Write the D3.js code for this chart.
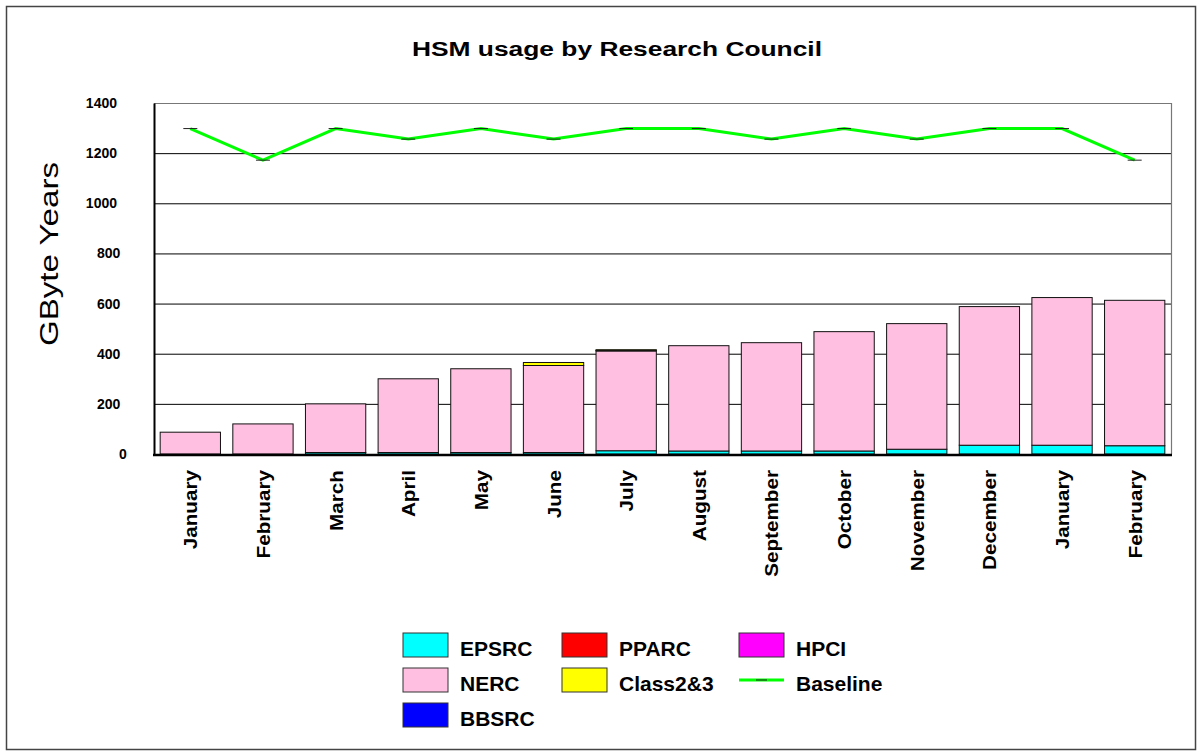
<!DOCTYPE html>
<html>
<head>
<meta charset="utf-8">
<script src="https://cdn.jsdelivr.net/npm/d3@7"></script>
<style>
  body { margin: 0; background: #fff; }
  svg { font-family: "Liberation Sans", Arial, sans-serif; }
</style>
</head>
<body>
<script>
// month labels (two Januaries / Februaries, so keep an index key)
var months = ["January", "February", "March", "April", "May", "June", "July",
  "August", "September", "October", "November", "December", "January", "February"];
var epsrc = [0, 0, 6, 6, 6, 6, 13, 12, 12, 12, 19, 35, 35, 33];
var nerc = [87, 120, 194, 294, 334, 347, 398, 420, 432, 476, 501, 553, 589, 580];
var bbsrc = [0, 0, 0, 0, 0, 0, 0, 0, 0, 0, 0, 0, 0, 0];
var pparc = [0, 0, 0, 0, 0, 0, 2, 0, 0, 0, 0, 0, 0, 0];
var hpci = [0, 0, 0, 0, 0, 0, 0, 0, 0, 0, 0, 0, 0, 0];
var class23 = [0, 0, 0, 0, 0, 12, 3, 0, 0, 0, 0, 0, 0, 0];
var baseline = [1298, 1172, 1298, 1256, 1298, 1256, 1298, 1298, 1256, 1298, 1256, 1298, 1298, 1172];
var yTicks = [0, 200, 400, 600, 800, 1000, 1200, 1400];

var W = 1202, H = 756;
var plot = {left: 154, top: 103, right: 1171, bottom: 454};

var svg = d3.select("body").append("svg")
  .attr("width", W)
  .attr("height", H);

// outer frame
svg.append("rect")
  .attr("x", 6.5).attr("y", 6.5)
  .attr("width", W - 13).attr("height", H - 13)
  .attr("fill", "none")
  .attr("stroke", "#444")
  .attr("stroke-width", 1.5);

svg.append("text")
  .attr("x", 412).attr("y", 56)
  .attr("font-size", 20).attr("font-weight", "bold")
  .attr("textLength", 410).attr("lengthAdjust", "spacingAndGlyphs")
  .text("HSM usage by Research Council");

var x = d3.scaleBand()
  .domain(d3.range(months.length))
  .range([plot.left, plot.right])
  .paddingInner(0.17)
  .paddingOuter(0.085);

var y = d3.scaleLinear()
  .domain([0, 1400])
  .range([plot.bottom, plot.top]);

// gridlines
svg.append("g").selectAll("line")
  .data(yTicks.filter(function (d) { return d > 0 && d < 1400; }))
  .enter().append("line")
  .attr("x1", plot.left).attr("x2", plot.right)
  .attr("y1", function (d) { return y(d) + 0.5; })
  .attr("y2", function (d) { return y(d) + 0.5; })
  .attr("stroke", "#000").attr("stroke-width", 1);

// top and right frame (grey)
svg.append("path")
  .attr("d", "M" + plot.left + "," + (plot.top + 0.5) + "H" + (plot.right + 0.5) + "V" + plot.bottom)
  .attr("fill", "none").attr("stroke", "#777").attr("stroke-width", 1.2);

// y axis
var yAxis = svg.append("g")
  .attr("transform", "translate(" + plot.left + ",0)")
  .call(d3.axisLeft(y).tickValues(yTicks).tickFormat(d3.format("d")).tickSize(0).tickPadding(0));
yAxis.select(".domain").attr("stroke", "#000").attr("stroke-width", 2);
yAxis.selectAll("text")
  .attr("x", function (d) { return -37 + (4 - String(d).length) * 3.3; })
  .attr("font-size", 14).attr("font-weight", "bold")
  .attr("font-family", "Liberation Sans, Arial, sans-serif")
  .attr("fill", "#000");

svg.append("text")
  .attr("transform", "translate(58,346) rotate(-90)")
  .attr("font-size", 26)
  .attr("textLength", 184).attr("lengthAdjust", "spacingAndGlyphs")
  .text("GByte Years");

// stacked bars
var seriesNames = ["EPSRC", "NERC", "BBSRC", "PPARC", "HPCI", "Class2&3"];
var seriesVals = [epsrc, nerc, bbsrc, pparc, hpci, class23];
var colors = ["#00ffff", "#ffbfe0", "#0000ff", "#ff0000", "#ff00ff", "#ffff00"];

var rows = months.map(function (m, i) {
  var r = {i: i};
  seriesNames.forEach(function (s, k) { r[s] = seriesVals[k][i]; });
  return r;
});
var stack = d3.stack().keys(seriesNames)(rows);

svg.append("g").selectAll("g")
  .data(stack)
  .enter().append("g")
  .attr("fill", function (d, k) { return colors[k]; })
  .selectAll("rect")
  .data(function (d) { return d.filter(function (p) { return p[1] > p[0]; }); })
  .enter().append("rect")
  .attr("x", function (p) { return x(p.data.i); })
  .attr("width", x.bandwidth())
  .attr("y", function (p) { return y(p[1]); })
  .attr("height", function (p) { return y(p[0]) - y(p[1]); })
  .attr("stroke", "#111").attr("stroke-width", 1);

// bottom axis line
svg.append("line")
  .attr("x1", plot.left - 1).attr("x2", plot.right + 1)
  .attr("y1", plot.bottom + 1).attr("y2", plot.bottom + 1)
  .attr("stroke", "#000").attr("stroke-width", 2.5);

// month labels
svg.append("g").selectAll("text")
  .data(months)
  .enter().append("text")
  .attr("transform", function (d, i) {
    return "translate(" + (x(i) + x.bandwidth() / 2 + 7) + ",470) rotate(-90) scale(1.15,1)";
  })
  .attr("text-anchor", "end")
  .attr("font-size", 18).attr("font-weight", "bold")
  .text(function (d) { return d; });

// baseline
var cx = function (d, i) { return x(i) + x.bandwidth() / 2; };
svg.append("path")
  .datum(baseline)
  .attr("d", d3.line().x(cx).y(function (d) { return y(d); }))
  .attr("fill", "none")
  .attr("stroke", "#00ff00")
  .attr("stroke-width", 3);
svg.append("g").selectAll("line")
  .data(baseline)
  .enter().append("line")
  .attr("x1", function (d, i) { return cx(d, i) - 7; })
  .attr("x2", function (d, i) { return cx(d, i) + 7; })
  .attr("y1", function (d) { return y(d); })
  .attr("y2", function (d) { return y(d); })
  .attr("stroke", "#222").attr("stroke-width", 1);

// legend
var legendItems = [
  {name: "EPSRC", color: colors[0]},
  {name: "PPARC", color: colors[3]},
  {name: "HPCI", color: colors[4]},
  {name: "NERC", color: colors[1]},
  {name: "Class2&3", color: colors[5]},
  {name: "Baseline", line: true},
  {name: "BBSRC", color: colors[2]}
];
var colX = [403, 562, 739];
var legend = svg.append("g").selectAll("g")
  .data(legendItems)
  .enter().append("g")
  .attr("transform", function (d, i) {
    return "translate(" + colX[i % 3] + "," + (633 + Math.floor(i / 3) * 35) + ")";
  });
legend.filter(function (d) { return !d.line; }).append("rect")
  .attr("width", 45).attr("height", 24)
  .attr("fill", function (d) { return d.color; })
  .attr("stroke", "#333").attr("stroke-width", 1);
legend.filter(function (d) { return d.line; }).append("line")
  .attr("x1", 0).attr("x2", 45).attr("y1", 12).attr("y2", 12)
  .attr("stroke", "#00ff00").attr("stroke-width", 3);
legend.filter(function (d) { return d.line; }).append("line")
  .attr("x1", 17).attr("x2", 28).attr("y1", 12).attr("y2", 12)
  .attr("stroke", "#222").attr("stroke-width", 1);
legend.append("text")
  .attr("x", 57).attr("y", 23)
  .attr("font-size", 21).attr("font-weight", "bold")
  .text(function (d) { return d.name; });
</script>
</body>
</html>
